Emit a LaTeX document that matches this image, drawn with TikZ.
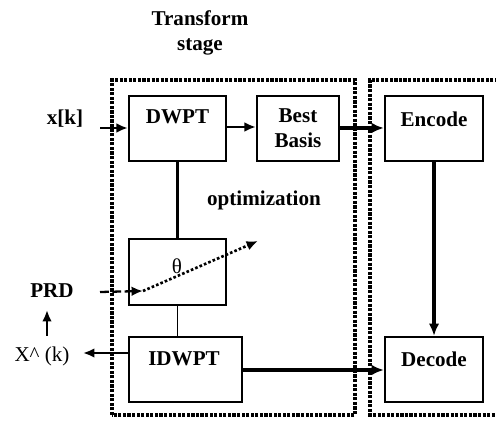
\documentclass[tikz,border=0pt]{standalone}
\usepackage{fontspec}
\setmainfont{Liberation Serif}
\usetikzlibrary{arrows.meta}
\begin{document}
\begin{tikzpicture}[x=0.02cm,y=-0.02cm,
  box/.style={draw,line width=1.3pt,inner sep=0pt},
  lbl/.style={font=\fontsize{12}{14}\selectfont\bfseries,inner sep=0pt,align=center},
  rlbl/.style={font=\fontsize{12}{14}\selectfont,inner sep=0pt},
  arr/.style={line width=1.3pt,-{Latex[length=6.5pt,width=5.5pt]}},
  tarr/.style={line width=2pt,-{Latex[length=7pt,width=6pt]}},
  stagebox/.style={line width=1.9pt,dash pattern=on 1.8pt off 0.8pt}]
\useasboundingbox (0,0) rectangle (496,421);
% stage frames
\draw[stagebox] (112,415) -- (112,80) -- (355,80) -- (355,415) -- cycle;
\draw[stagebox] (498,80) -- (370,80) -- (370,415) -- (498,415);
% title
\node[lbl] (title) at (200,33) {Transform\\stage};
% boxes
\node[box,minimum width=1.94cm,minimum height=1.3cm] (dwpt) at (177.5,128.5) {};
\node[box,minimum width=1.64cm,minimum height=1.3cm] (bb) at (298,128.5) {};
\node[box,minimum width=1.96cm,minimum height=1.3cm] (enc) at (434,128.5) {};
\node[box,minimum width=1.94cm,minimum height=1.32cm] (th) at (177.5,272) {};
\node[box,minimum width=2.26cm,minimum height=1.3cm] (idw) at (185.5,369.5) {};
\node[box,minimum width=1.96cm,minimum height=1.3cm] (dec) at (434,369.5) {};
% box texts
\node[lbl] (tdwpt) at (177.5,117) {DWPT};
\node[lbl] (tbb) at (298,128) {Best\\Basis};
\node[lbl] (tenc) at (434,119) {Encode};
\node[rlbl] (tth) at (177,266) {θ};
\node[lbl] (tidw) at (184,359) {IDWPT};
\node[lbl] (tdec) at (434,359) {Decode};
% outside texts
\node[lbl] (xk) at (65,119) {x[k]};
\node[lbl] (opt) at (264,200) {optimization};
\node[lbl] (prd) at (52,291) {PRD};
\node[rlbl] (xh) at (42,356) {X\^{} (k)};
% coordinates
\coordinate (xin) at (100,128);
\coordinate (prdin) at (100,292);
\coordinate (prdtip) at (143,291);
\coordinate (opttip) at (258,241);
\coordinate (xout) at (83,353);
\coordinate (upb) at (47,336);
\coordinate (upt) at (47,310);
% connectors
\draw[arr] (xin) -- (dwpt.west |- xin);
\draw[arr] (dwpt.east |- 0,127) -- (bb.west |- 0,127);
\draw[tarr] (bb.east |- 0,128) -- (enc.west |- 0,128);
\draw[line width=1.3pt] (dwpt.south) -- (th.north);
\draw[line width=0.8pt] (th.south) -- (th.south |- idw.north);
\draw[tarr] (enc.south) -- (dec.north);
\draw[tarr] (idw.east |- 0,370) -- (dec.west |- 0,370);
\draw[arr] (idw.west |- xout) -- (xout);
\draw[arr,dash pattern=on 5pt off 2pt] (prdin) -- (prdtip);
\draw[arr,line width=1.5pt,dash pattern=on 1.5pt off 1.2pt] (prdtip) -- (opttip);
\draw[arr] (upb) -- (upt);
\end{tikzpicture}
\end{document}
